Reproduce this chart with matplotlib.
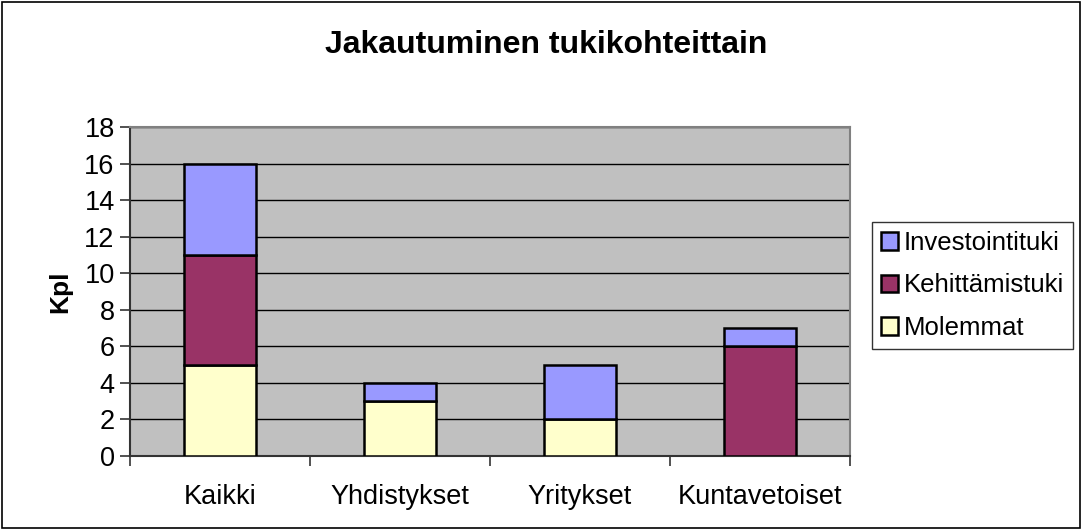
import numpy as np
import matplotlib.pyplot as plt
from matplotlib.patches import Rectangle

categories = ['Kaikki', 'Yhdistykset', 'Yritykset', 'Kuntavetoiset']
molemmat = [5, 3, 2, 0]
kehittamistuki = [6, 0, 0, 6]
investointituki = [5, 1, 3, 1]

plt.rcParams['font.family'] = ['Liberation Sans', 'DejaVu Sans']

fig = plt.figure(figsize=(10.83, 5.30), dpi=100)
ax = fig.add_axes([130 / 1083, 74 / 530, 720 / 1083, 329 / 530])
ax.set_facecolor('#C0C0C0')

X = np.arange(len(categories))
m = np.array(molemmat)
k = np.array(kehittamistuki)
inv = np.array(investointituki)
w = 0.4
kw = dict(width=w, edgecolor='black', linewidth=1.8, zorder=3)
b1 = ax.bar(X, m, color='#FFFFCC', **kw)
b2 = ax.bar(X, k, bottom=m, color='#993366', **kw)
b3 = ax.bar(X, inv, bottom=m + k, color='#9999FF', **kw)
# hide zero-height segments
for bars, vals in ((b1, m), (b2, k), (b3, inv)):
    for b, v in zip(bars, vals):
        if v == 0:
            b.set_visible(False)

ax.set_xlim(-0.5, len(categories) - 0.5)
ax.set_ylim(0, 18)
ax.set_yticks(range(0, 19, 2))
ax.yaxis.grid(True, color='black', linewidth=1, zorder=0)
ax.set_axisbelow(True)

ax.set_xticks(X)
ax.set_xticklabels(categories, fontsize=19.5)
ax.tick_params(axis='x', length=0, pad=20)
ax.set_xticks(np.arange(-0.5, len(categories)), minor=True)
ax.tick_params(axis='x', which='minor', length=7, width=1.2, color='#333333', direction='out')
ax.tick_params(axis='y', labelsize=19.5, length=7, width=1.2, color='#333333', direction='out', pad=4)

for s in ['top', 'right']:
    ax.spines[s].set_color('#808080')
    ax.spines[s].set_linewidth(1.5)
ax.spines['left'].set_color('#333333')
ax.spines['bottom'].set_color('#333333')
ax.spines['left'].set_linewidth(1.5)
ax.spines['bottom'].set_linewidth(1.5)

ax.set_ylabel('Kpl', fontsize=19, fontweight='bold', labelpad=9)
fig.text(546 / 1083, 1 - 45 / 530, 'Jakautuminen tukikohteittain', fontsize=23,
         fontweight='bold', ha='center', va='center')

leg = fig.legend([b3, b2, b1], ['Investointituki', 'Kehittämistuki', 'Molemmat'],
                 loc='upper left', bbox_to_anchor=(872 / 1083, 1 - 222 / 530),
                 fontsize=18.5, frameon=True, fancybox=False, edgecolor='black',
                 borderaxespad=0, handlelength=0.65, handleheight=0.65,
                 handletextpad=0.25, labelspacing=0.72, borderpad=0.35)
leg.get_frame().set_linewidth(1)

fig.patches.append(Rectangle((0.002, 0.003), 0.995, 0.993, transform=fig.transFigure,
                             fill=False, edgecolor='black', linewidth=1.2))

fig.savefig('out.png', dpi=100)
